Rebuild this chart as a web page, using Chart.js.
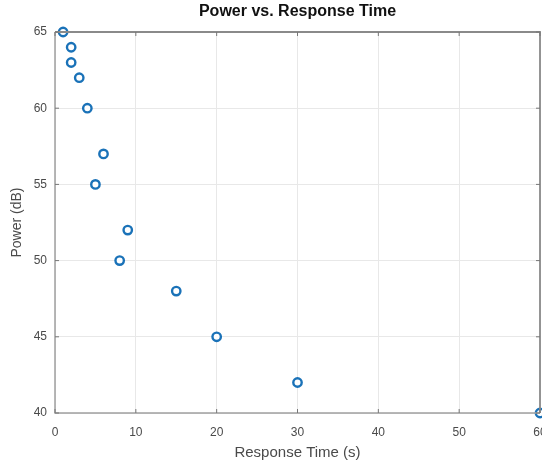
<!DOCTYPE html>
<html>
<head>
<meta charset="utf-8">
<script src="https://cdn.jsdelivr.net/npm/chart.js@4"></script>
<style>
html,body{margin:0;padding:0;background:#fff;}
#wrap{width:542px;height:462px;position:relative;}
</style>
</head>
<body>
<div id="wrap"><canvas id="c" width="542" height="462"></canvas></div>
<script>
const responseTime = [1, 2, 2, 3, 4, 6, 5, 9, 8, 15, 20, 30, 60];
const power = [65, 64, 63, 62, 60, 57, 55, 52, 50, 48, 45, 42, 40];
const xTicks = [0, 10, 20, 30, 40, 50, 60];
const yTicks = [40, 45, 50, 55, 60, 65];
const titleText = 'Power vs. Response Time';
const xTitle = 'Response Time (s)';
const yTitle = 'Power (dB)';

const points = responseTime.map((x, i) => ({x: x, y: power[i]}));

const boxPlugin = {
  id: 'box',
  afterDatasetsDraw(chart) {
    const {ctx, chartArea: a, scales} = chart;
    ctx.save();
    ctx.strokeStyle = '#8a8a8a';
    ctx.lineWidth = 1.8;
    ctx.beginPath();
    ctx.moveTo(a.left, a.top); ctx.lineTo(a.right, a.top); ctx.lineTo(a.right, a.bottom);
    ctx.stroke();
    ctx.strokeStyle = '#a0a0a0';
    ctx.lineWidth = 1.5;
    ctx.beginPath();
    ctx.moveTo(a.left, a.top); ctx.lineTo(a.left, a.bottom); ctx.lineTo(a.right, a.bottom);
    ctx.stroke();
    ctx.lineWidth = 1;
    ctx.strokeStyle = '#777';
    ctx.beginPath();
    xTicks.forEach(v => {
      const px = scales.x.getPixelForValue(v);
      ctx.moveTo(px, a.bottom); ctx.lineTo(px, a.bottom - 4);
      ctx.moveTo(px, a.top); ctx.lineTo(px, a.top + 4);
    });
    yTicks.forEach(v => {
      const py = scales.y.getPixelForValue(v);
      ctx.moveTo(a.left, py); ctx.lineTo(a.left + 4, py);
      ctx.moveTo(a.right, py); ctx.lineTo(a.right - 4, py);
    });
    ctx.stroke();
    ctx.restore();
  }
};

const noPad = () => ({left: 0, top: 0, right: 0, bottom: 0});

new Chart(document.getElementById('c'), {
  type: 'scatter',
  data: {
    datasets: [{
      data: points,
      showLine: false,
      pointStyle: 'circle',
      pointRadius: 4.2,
      pointHoverRadius: 4.2,
      pointBorderWidth: 2.4,
      pointBorderColor: '#1a72b8',
      pointBackgroundColor: 'rgba(255,255,255,0.9)',
      clip: false
    }]
  },
  options: {
    responsive: false,
    animation: false,
    devicePixelRatio: 1,
    layout: {autoPadding: false, padding: {left: 0, right: 2, top: 0, bottom: 0}},
    plugins: {
      legend: {display: false},
      tooltip: {enabled: false},
      title: {
        display: true,
        fullSize: false,
        text: titleText,
        color: '#111',
        font: {family: 'Liberation Sans', size: 16, weight: 'bold'},
        padding: {top: 2, bottom: 10.8}
      }
    },
    scales: {
      x: {
        type: 'linear',
        min: 0, max: 60,
        afterBuildTicks(s) { s.ticks = xTicks.map(v => ({value: v})); },
        afterFit(s) { s.height = 49; s.paddingLeft = 0; s.paddingRight = 0; s.getPadding = noPad; },
        grid: {color: '#e8e8e8', lineWidth: 1, drawTicks: false},
        border: {display: false},
        ticks: {color: '#4a4a4a', font: {family: 'Liberation Sans', size: 12}, padding: 12, maxRotation: 0},
        title: {display: true, text: xTitle, color: '#4a4a4a', font: {family: 'Liberation Sans', size: 15}, padding: {top: 0, bottom: 0}}
      },
      y: {
        type: 'linear',
        min: 40, max: 65,
        afterBuildTicks(s) { s.ticks = yTicks.map(v => ({value: v})); },
        afterFit(s) { s.width = 55; s.paddingTop = 0; s.paddingBottom = 0; s.getPadding = noPad; },
        grid: {color: '#e8e8e8', lineWidth: 1, drawTicks: false},
        border: {display: false},
        ticks: {color: '#4a4a4a', font: {family: 'Liberation Sans', size: 12}, padding: 8},
        title: {display: true, text: yTitle, color: '#4a4a4a', font: {family: 'Liberation Sans', size: 14}, padding: {top: 8.6, bottom: 0}}
      }
    }
  },
  plugins: [boxPlugin]
});
</script>
</body>
</html>
